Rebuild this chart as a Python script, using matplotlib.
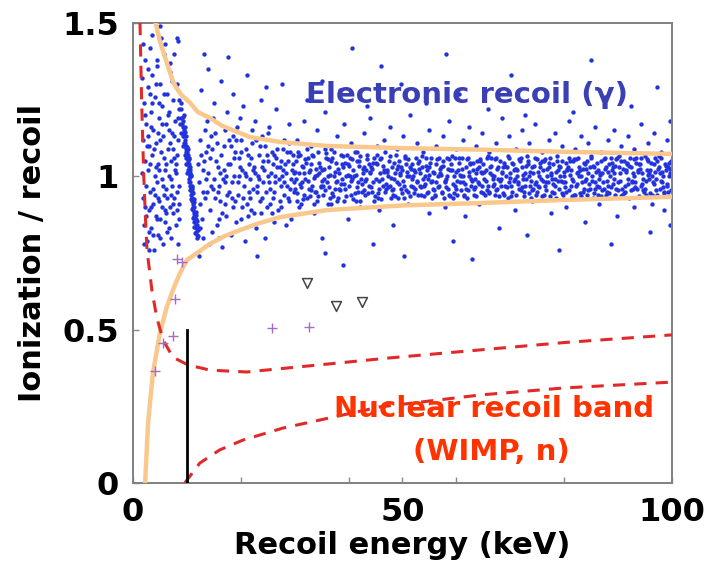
import matplotlib
matplotlib.use("Agg")
import matplotlib.pyplot as plt

# curve points (keV, ionization/recoil)
er_upper_x = [4.2, 5.0, 6.1, 7.4, 8.0, 9.0, 10.6, 12.0, 14.3, 16.5, 18.6, 21.7, 27.3, 36, 50, 64.4, 80, 100]
er_upper_y = [1.50, 1.44, 1.38, 1.31, 1.29, 1.265, 1.24, 1.21, 1.19, 1.165, 1.15, 1.128, 1.112, 1.099, 1.092, 1.087, 1.08, 1.073]
er_lower_x = [2.25, 2.8, 3.7, 5.0, 6.2, 7.4, 8.6, 10.0, 11.9, 14.3, 17, 19.9, 23, 27.3, 36, 50, 64.4, 80, 100]
er_lower_y = [0.0, 0.196, 0.359, 0.489, 0.57, 0.629, 0.68, 0.727, 0.75, 0.78, 0.805, 0.825, 0.845, 0.867, 0.89, 0.905, 0.913, 0.923, 0.933]
nr_upper_x = [1.3, 1.6, 2.0, 2.3, 2.6, 3.5, 4.4, 5.6, 7.4, 10.2, 14.3, 21.1, 30.4, 47.7, 64.4, 80, 100]
nr_upper_y = [1.5, 1.25, 1.0, 0.87, 0.76, 0.63, 0.54, 0.466, 0.41, 0.385, 0.368, 0.362, 0.378, 0.408, 0.434, 0.458, 0.483]
nr_lower_x = [9.6, 12.4, 16.1, 20.4, 27.8, 45.8, 64.4, 80, 100]
nr_lower_y = [0.0, 0.065, 0.108, 0.14, 0.179, 0.248, 0.287, 0.31, 0.329]

threshold_x = 10.0
threshold_top = 0.5

# candidate events
cross_x = [8.2, 9.1, 7.8, 7.4, 5.6, 4.1, 25.8, 32.7]
cross_y = [0.73, 0.72, 0.60, 0.48, 0.456, 0.365, 0.505, 0.509]
tri_x = [32.3, 37.7, 42.5]
tri_y = [0.652, 0.577, 0.590]

# gamma calibration events, low energy
er_low = [
    (1.6, 1.32), (1.8, 1.12), (1.9, .93), (2.0, 1.24), (2.1, .84), (2.2, 1.05), (2.3, 1.38), (2.4, .97), (2.5, 1.17), (2.6, .79),
    (2.7, 1.29), (2.8, 1.02), (2.9, .89), (3.0, 1.10), (3.1, 1.42), (3.2, .95), (3.3, 1.21), (3.4, .83), (3.5, 1.07), (3.6, 1.33),
    (3.7, .91), (3.8, 1.15), (3.9, .76), (4.0, 1.0), (4.1, 1.26), (4.2, .87), (4.3, 1.11), (4.4, .98), (4.5, 1.36), (4.6, .81),
    (4.7, 1.04), (4.8, 1.19), (4.9, .92), (5.0, 1.30), (5.1, .86), (5.2, 1.08), (5.3, .99), (5.4, 1.23), (5.5, .78), (5.6, 1.13),
    (5.7, .94), (5.8, 1.40), (5.9, 1.02), (6.0, .85), (6.1, 1.17), (6.2, .96), (6.3, 1.27), (6.4, .82), (6.5, 1.09), (6.6, 1.0),
    (6.7, 1.21), (6.8, .90), (6.9, 1.34), (7.0, 1.05), (7.1, .80), (7.2, 1.14), (7.3, .97), (7.4, 1.25), (7.5, .88), (7.6, 1.06),
    (7.7, .93), (7.8, 1.18), (7.9, .84), (8.0, 1.01), (8.1, 1.30), (8.2, .95), (8.3, 1.12), (8.4, .78), (8.5, 1.22), (8.6, .91),
    (2.2, .90), (2.6, 1.10), (3.0, .82), (3.4, 1.16), (3.8, .96), (4.2, 1.03), (4.6, .93), (5.0, 1.12), (5.4, .90), (5.8, 1.06),
    (6.2, .88), (6.6, 1.15), (7.0, .94), (7.4, 1.09), (7.8, 1.02), (8.2, 1.07), (8.6, .86), (3.2, 1.27), (5.2, 1.45), (8.4, 1.44),
    (4.4, 1.38), (6.8, 1.37), (5.0, 1.49), (8.2, 1.45),
    (1.7, 1.01), (2.0, .78), (2.3, 1.20), (2.5, .87), (2.7, 1.13), (2.9, .76), (3.1, 1.04), (3.3, .90), (3.5, 1.24), (3.7, .81),
    (3.9, 1.09), (4.1, .94), (4.3, 1.30), (4.5, .86), (4.7, 1.14), (4.9, 1.02), (5.1, .80), (5.3, 1.17), (5.5, .97), (5.7, 1.27),
    (5.9, .89), (6.1, 1.04), (6.3, .93), (6.5, 1.20), (6.7, .83), (6.9, 1.11), (7.1, .99), (7.3, 1.31), (7.5, .91), (7.7, 1.13),
    (7.9, 1.04), (8.1, .89), (8.3, 1.19), (8.5, .97), (1.9, 1.43), (2.8, 1.35), (3.6, 1.46), (6.0, 1.43), (7.6, 1.40), (4.9, 1.24),
]

# tilted calibration line near 10 keV
er_line = [
    (8.6, 1.25), (8.9, 1.22), (9.0, 1.19), (9.3, 1.18), (9.2, 1.16), (9.4, 1.15), (9.3, 1.13), (9.6, 1.12), (9.5, 1.11), (9.7, 1.10),
    (9.9, 1.09), (9.8, 1.08), (10.0, 1.07), (9.9, 1.06), (10.2, 1.05), (10.1, 1.04), (10.3, 1.03), (10.2, 1.02), (10.4, 1.01), (10.5, 1.0),
    (10.4, .99), (10.6, .98), (10.5, .97), (10.7, .96), (10.9, .95), (10.8, .94), (11.0, .93), (10.9, .92), (11.1, .91), (11.2, .90),
    (11.1, .89), (11.3, .88), (11.4, .87), (11.5, .86), (11.4, .85), (11.6, .84), (11.7, .83), (11.6, .82), (11.8, .81), (11.9, .80),
    (9.1, 1.17), (9.5, 1.14), (9.7, 1.11), (10.0, 1.08), (10.1, 1.06), (10.3, 1.04), (10.5, 1.02), (10.6, 1.0), (10.8, .97), (11.0, .95),
    (11.2, .92), (11.3, .90), (11.5, .88), (11.6, .86), (11.8, .84), (9.4, 1.13), (9.8, 1.10), (10.2, 1.07), (10.6, 1.01), (11.0, .96),
    (8.9, 1.24), (9.4, 1.20), (8.8, 1.17), (9.7, 1.16), (9.0, 1.14), (9.9, 1.13), (9.3, 1.10), (10.2, 1.09), (9.6, 1.07), (10.4, 1.06),
    (9.9, 1.04), (10.6, 1.03), (10.1, 1.01), (10.8, 1.0), (10.3, .98), (11.0, .97), (10.5, .955), (11.2, .945), (10.7, .925), (11.4, .915),
    (10.9, .895), (11.6, .885), (11.1, .865), (11.8, .855), (11.3, .835), (12.0, .825), (11.5, .815), (12.1, .805), (9.2, 1.195), (9.6, 1.145),
    (10.0, 1.095), (10.3, 1.055), (10.7, 1.005), (11.0, .965), (11.3, .925), (11.6, .875), (11.9, .835),
]

# 12 - 30 keV
er_mid = [
    (12.2, .98), (12.5, 1.12), (12.8, .86), (13.1, 1.05), (13.4, .93), (13.7, 1.18), (14.0, 1.01), (14.3, .89), (14.6, 1.09), (14.9, .96),
    (15.2, 1.14), (15.5, .84), (15.8, 1.03), (16.1, .92), (16.4, 1.07), (16.7, .99), (17.0, 1.15), (17.3, .87), (17.6, 1.04), (17.9, .95),
    (18.2, 1.10), (18.5, .90), (18.8, 1.0), (19.1, 1.12), (19.4, .94), (19.7, 1.06), (20.0, .86), (20.3, 1.02), (20.6, .97), (20.9, 1.09),
    (21.2, .91), (21.5, 1.04), (21.8, .99), (22.1, 1.11), (22.4, .88), (22.7, 1.01), (23.0, .95), (23.3, 1.07), (23.6, .92), (23.9, 1.03),
    (24.2, .98), (24.5, 1.10), (24.8, .90), (25.1, 1.05), (25.4, .96), (25.7, 1.08), (26.0, .93), (26.3, 1.0), (26.6, 1.06), (26.9, .89),
    (27.2, 1.03), (27.5, .97), (27.8, 1.09), (28.1, .94), (28.4, 1.01), (28.7, 1.05), (29.0, .92), (29.3, .99), (29.6, 1.07), (29.9, .95),
    (12.4, .91), (12.9, 1.02), (13.3, 1.15), (13.8, .95), (14.2, 1.06), (14.7, .82), (15.1, .99), (15.6, 1.11), (16.0, .97), (16.5, .88),
    (16.9, 1.02), (17.4, .94), (17.8, 1.12), (18.3, .98), (18.7, 1.06), (19.2, .85), (19.6, 1.0), (20.1, 1.08), (20.5, .93), (21.0, 1.0),
    (21.4, .87), (21.9, 1.06), (22.3, .96), (22.8, 1.12), (23.2, 1.0), (23.7, .88), (24.1, 1.05), (24.6, .95), (25.0, 1.0), (25.5, .91),
    (25.9, 1.04), (26.4, .98), (26.8, 1.09), (27.3, .92), (27.7, 1.0), (28.2, 1.04), (28.6, .97), (29.1, 1.08), (29.5, 1.02), (29.8, .98),
    (12.7, 1.07), (13.5, .99), (14.4, 1.13), (15.3, .93), (16.2, 1.01), (17.1, .98), (18.0, 1.04), (18.9, .92), (19.8, 1.03), (20.7, 1.01),
    (21.6, .95), (22.5, 1.03), (23.4, .99), (24.3, 1.02), (25.2, .98), (26.1, 1.07), (27.0, .99), (27.9, 1.02), (28.8, .93), (29.7, 1.04),
    (12.6, 1.28), (13.9, 1.35), (15.0, 1.24), (16.3, 1.31), (17.5, 1.21), (18.6, 1.27), (19.9, 1.19), (21.1, 1.33), (22.6, 1.18), (23.8, 1.25),
    (25.3, 1.16), (26.5, 1.22), (27.6, 1.30), (28.9, 1.17), (14.8, 1.19), (20.4, 1.23), (24.7, 1.29), (12.3, .74), (14.1, .78), (16.6, .77),
    (18.1, .81), (20.8, .79), (22.9, .83), (24.4, .80), (26.2, .85), (28.3, .84), (13.2, 1.40), (17.7, 1.39), (29.4, .86), (23.1, .74),
    (12.1, 1.04), (12.9, .80), (13.6, 1.08), (14.5, .97), (15.4, 1.05), (16.0, .86), (16.8, 1.10), (17.2, 1.0), (18.4, .93), (19.0, 1.08),
    (19.5, .98), (20.2, .90), (21.3, 1.07), (21.7, .93), (22.2, 1.02), (23.1, .97), (23.5, 1.10), (24.0, .93), (24.9, 1.07), (25.6, 1.01),
    (26.2, .95), (26.7, 1.03), (27.4, 1.05), (28.0, .98), (28.5, 1.08), (29.2, .96), (29.9, 1.01), (13.0, .95), (14.0, 1.10), (15.7, .95),
    (17.0, .91), (18.5, 1.13), (20.0, 1.12), (21.9, .89), (23.9, 1.13), (25.8, .88), (27.5, .90), (29.0, 1.11), (12.5, .83), (15.9, .80),
    (19.3, 1.16), (22.0, 1.15), (25.0, 1.14), (28.0, 1.12),
]

# 30 - 100 keV, main band
er_core = [
    (30, .96), (30.2, .99), (30.3, 1.05), (30.5, .92), (30.7, 1.08), (30.8, 1.01),
    (31, 1.07), (31.2, .91), (31.3, .98), (31.5, 1.03), (31.7, 1.01), (31.8, .94),
    (32, .99), (32.2, 1.09), (32.3, .93), (32.5, 1.06), (32.7, .96), (32.8, 1.02),
    (33, 1.04), (33.2, 1.07), (33.3, .97), (33.5, .91), (33.7, .95), (33.8, 1.0),
    (34, .95), (34.2, .92), (34.3, 1.08), (34.5, 1.01), (34.7, 1.03), (34.8, .97),
    (35, 1.02), (35.2, .97), (35.3, .94), (35.5, .99), (35.7, 1.09), (35.8, 1.06),
    (36, .98), (36.2, 1.0), (36.3, 1.03), (36.5, .93), (36.7, .91), (36.8, 1.05),
    (37, 1.06), (37.2, 1.08), (37.3, 1.0), (37.5, .96), (37.7, .98), (37.8, .92),
    (38, .93), (38.2, .96), (38.3, 1.01), (38.5, 1.07), (38.7, 1.04), (38.8, .99),
    (39, 1.03), (39.2, .92), (39.3, .96), (39.5, 1.0), (39.7, 1.07), (39.8, 1.04),
    (40, .97), (40.2, 1.0), (40.3, 1.06), (40.5, .94), (40.7, .99), (40.8, 1.02),
    (41, 1.0), (41.2, 1.08), (41.3, .92), (41.5, 1.05), (41.7, .95), (41.8, .98),
    (42, 1.05), (42.2, .92), (42.3, .99), (42.5, .95), (42.7, 1.01), (42.8, 1.03),
    (43, .94), (43.2, .99), (43.3, 1.02), (43.5, 1.07), (43.7, 1.04), (43.8, .97),
    (44, 1.01), (44.2, 1.03), (44.3, .95), (44.5, .98), (44.7, .92), (44.8, 1.06),
    (45, .99), (45.2, 1.07), (45.3, 1.04), (45.5, .93), (45.7, .96), (45.8, 1.01),
    (46, 1.06), (46.2, .99), (46.3, .97), (46.5, 1.02), (46.7, 1.08), (46.8, .95),
    (47, .96), (47.2, 1.02), (47.3, 1.0), (47.5, 1.05), (47.7, .97), (47.8, .93),
    (48, 1.03), (48.2, .96), (48.3, .94), (48.5, .99), (48.7, 1.01), (48.8, 1.07),
    (49, .98), (49.2, .93), (49.3, 1.05), (49.5, 1.01), (49.7, 1.03), (49.8, .96),
    (50, 1.02), (50.2, .97), (50.3, .93), (50.5, 1.06), (50.7, 1.04), (50.8, 1.0),
    (51, .95), (51.2, 1.0), (51.3, 1.03), (51.5, .97), (51.7, .99), (51.8, 1.04),
    (52, 1.0), (52.2, 1.02), (52.3, .96), (52.5, 1.06), (52.7, .98), (52.8, .94),
    (53, 1.05), (53.2, .97), (53.3, 1.01), (53.5, .94), (53.7, 1.03), (53.8, .99),
    (54, .97), (54.2, 1.0), (54.3, 1.06), (54.5, 1.02), (54.7, .99), (54.8, .95),
    (55, 1.03), (55.2, 1.06), (55.3, .98), (55.5, .93), (55.7, .96), (55.8, 1.01),
    (56, .94), (56.2, .98), (56.3, 1.04), (56.5, 1.0), (56.7, .97), (56.8, 1.06),
    (57, 1.01), (57.2, 1.03), (57.3, .95), (57.5, 1.05), (57.7, .93), (57.8, .98),
    (58, .99), (58.2, 1.0), (58.3, 1.06), (58.5, .96), (58.7, .94), (58.8, 1.02),
    (59, 1.04), (59.2, 1.02), (59.3, .93), (59.5, 1.0), (59.7, 1.06), (59.8, .97),
    (60, .96), (60.2, .94), (60.3, 1.02), (60.5, 1.06), (60.7, .98), (60.8, 1.0),
    (61, 1.06), (61.2, 1.0), (61.3, .98), (61.5, .94), (61.7, .96), (61.8, 1.03),
    (62, .93), (62.2, 1.06), (62.3, 1.0), (62.5, 1.04), (62.7, .99), (62.8, .97),
    (63, 1.02), (63.2, .94), (63.3, .96), (63.5, .99), (63.7, 1.01), (63.8, 1.05),
    (64, .98), (64.2, 1.03), (64.3, 1.05), (64.5, .95), (64.7, .97), (64.8, 1.01),
    (65, 1.04), (65.2, .99), (65.3, .94), (65.5, 1.02), (65.7, 1.06), (65.8, .97),
    (66, .95), (66.2, 1.03), (66.3, 1.01), (66.5, 1.06), (66.7, .97), (66.8, .99),
    (67, 1.0), (67.2, .94), (67.3, 1.06), (67.5, .96), (67.7, .99), (67.8, 1.03),
    (68, 1.05), (68.2, .99), (68.3, .97), (68.5, 1.01), (68.7, 1.03), (68.8, .94),
    (69, .97), (69.2, 1.0), (69.3, 1.03), (69.5, .93), (69.7, .98), (69.8, 1.06),
    (70, 1.01), (70.2, .97), (70.3, .95), (70.5, 1.04), (70.7, 1.02), (70.8, .99),
    (71, .94), (71.2, 1.0), (71.3, 1.02), (71.5, .98), (71.7, .96), (71.8, 1.05),
    (72, 1.06), (72.2, 1.03), (72.3, .99), (72.5, .95), (72.7, .97), (72.8, 1.01),
    (73, .99), (73.2, 1.05), (73.3, 1.04), (73.5, 1.0), (73.7, .97), (73.8, .93),
    (74, 1.03), (74.2, 1.01), (74.3, .96), (74.5, 1.06), (74.7, .94), (74.8, .98),
    (75, .95), (75.2, .97), (75.3, 1.0), (75.5, 1.03), (75.7, .99), (75.8, 1.05),
    (76, 1.02), (76.2, 1.05), (76.3, .94), (76.5, .97), (76.7, .98), (76.8, 1.0),
    (77, .98), (77.2, 1.03), (77.3, 1.06), (77.5, 1.01), (77.7, .99), (77.8, .95),
    (78, 1.04), (78.2, .97), (78.3, .99), (78.5, .93), (78.7, 1.05), (78.8, 1.02),
    (79, .96), (79.2, 1.0), (79.3, 1.03), (79.5, 1.05), (79.7, .94), (79.8, .98),
    (80, 1.0), (80.2, .98), (80.3, .95), (80.5, 1.02), (80.7, 1.03), (80.8, 1.06),
    (81, 1.05), (81.2, 1.02), (81.3, .97), (81.5, .99), (81.7, 1.05), (81.8, .94),
    (82, .94), (82.2, .97), (82.3, 1.01), (82.5, 1.06), (82.7, 1.03), (82.8, 1.0),
    (83, 1.02), (83.2, 1.0), (83.3, .98), (83.5, .95), (83.7, .96), (83.8, 1.04),
    (84, .99), (84.2, .94), (84.3, 1.05), (84.5, 1.01), (84.7, 1.03), (84.8, .96),
    (85, 1.06), (85.2, 1.0), (85.3, .93), (85.5, 1.03), (85.7, .96), (85.8, .98),
    (86, .97), (86.2, .94), (86.3, 1.02), (86.5, .99), (86.7, 1.01), (86.8, 1.05),
    (87, 1.01), (87.2, .98), (87.3, .96), (87.5, 1.06), (87.7, 1.03), (87.8, .94),
    (88, .95), (88.2, .97), (88.3, 1.04), (88.5, 1.0), (88.7, 1.06), (88.8, 1.02),
    (89, 1.03), (89.2, 1.01), (89.3, .99), (89.5, .94), (89.7, .96), (89.8, 1.06),
    (90, .98), (90.2, 1.03), (90.3, 1.01), (90.5, 1.05), (90.7, .94), (90.8, .96),
    (91, 1.05), (91.2, .97), (91.3, .95), (91.5, 1.02), (91.7, 1.04), (91.8, .99),
    (92, .93), (92.2, 1.06), (92.3, 1.03), (92.5, .98), (92.7, .96), (92.8, 1.01),
    (93, 1.0), (93.2, .98), (93.3, 1.06), (93.5, .96), (93.7, 1.02), (93.8, 1.04),
    (94, 1.04), (94.2, 1.06), (94.3, .97), (94.5, 1.01), (94.7, .99), (94.8, .95),
    (95, .96), (95.2, .94), (95.3, 1.02), (95.5, 1.05), (95.7, 1.01), (95.8, .99),
    (96, 1.02), (96.2, 1.0), (96.3, .94), (96.5, .98), (96.7, 1.04), (96.8, 1.06),
    (97, .99), (97.2, .94), (97.3, 1.05), (97.5, 1.03), (97.7, 1.01), (97.8, .96),
    (98, 1.06), (98.2, .98), (98.3, 1.0), (98.5, .95), (98.7, 1.04), (98.8, 1.02),
    (99, .97), (99.2, .95), (99.3, 1.03), (99.5, 1.0), (99.7, 1.01), (99.8, 1.05),
]

# 30 - 100 keV, more events in the main band
er_core2 = [
    (30.1, 1.015), (30.4, .945), (30.6, 1.065), (30.9, .975), (31.1, .965), (31.4, 1.035), (31.6, .925), (31.9, 1.055),
    (32.1, 1.045), (32.4, .985), (32.6, 1.015), (32.9, .935), (33.1, .955), (33.4, 1.065), (33.6, .995), (33.9, 1.025),
    (34.1, 1.005), (34.4, .935), (34.6, 1.045), (34.9, .965), (35.1, .985), (35.4, 1.025), (35.6, .955), (35.9, 1.075),
    (36.1, 1.055), (36.4, .965), (36.6, 1.005), (36.9, .945), (37.1, .935), (37.4, 1.015), (37.6, 1.045), (37.9, .985),
    (38.1, 1.025), (38.4, .955), (38.6, .975), (38.9, 1.065), (39.1, .975), (39.4, 1.045), (39.6, .935), (39.9, 1.005),
    (40.1, 1.035), (40.4, .985), (40.6, 1.055), (40.9, .925), (41.1, .945), (41.4, 1.005), (41.6, .965), (41.9, 1.035),
    (42.1, 1.065), (42.4, .975), (42.6, 1.025), (42.9, .955), (43.1, .985), (43.4, 1.055), (43.6, .945), (43.9, 1.015),
    (44.1, .965), (44.4, 1.025), (44.6, 1.045), (44.9, .935), (45.1, 1.045), (45.4, .945), (45.6, .985), (45.9, 1.055),
    (46.1, .925), (46.4, 1.035), (46.6, 1.015), (46.9, .975), (47.1, 1.015), (47.4, .965), (47.6, 1.065), (47.9, .995),
    (48.1, .955), (48.4, 1.045), (48.6, .935), (48.9, 1.025), (49.1, 1.035), (49.4, .975), (49.6, 1.005), (49.9, .945),
    (50.1, .985), (50.4, 1.065), (50.6, .955), (50.9, 1.015), (51.1, 1.055), (51.4, .935), (51.6, 1.025), (51.9, .965),
    (52.1, .945), (52.4, 1.015), (52.6, .985), (52.9, 1.045), (53.1, 1.025), (53.4, .965), (53.6, 1.065), (53.9, .935),
    (54.1, .975), (54.4, 1.035), (54.6, .945), (54.9, 1.005), (55.1, 1.045), (55.4, .985), (55.6, 1.015), (55.9, .955),
    (56.1, .935), (56.4, 1.055), (56.6, .965), (56.9, 1.025), (57.1, 1.005), (57.4, .945), (57.6, 1.035), (57.9, .985),
    (58.1, .965), (58.4, 1.025), (58.6, 1.055), (58.9, .935), (59.1, 1.065), (59.4, .975), (59.6, .945), (59.9, 1.015),
    (60.1, .985), (60.4, 1.045), (60.6, 1.005), (60.9, .955), (61.1, 1.025), (61.4, .935), (61.6, .975), (61.9, 1.055),
    (62.1, .955), (62.4, 1.015), (62.6, 1.045), (62.9, .985), (63.1, 1.045), (63.4, .965), (63.6, .935), (63.9, 1.025),
    (64.1, .975), (64.4, 1.055), (64.6, 1.015), (64.9, .945), (65.1, 1.015), (65.4, .985), (65.6, .955), (65.9, 1.065),
    (66.1, .945), (66.4, 1.035), (66.6, 1.005), (66.9, .975), (67.1, 1.055), (67.4, .955), (67.6, 1.025), (67.9, .935),
    (68.1, .985), (68.4, 1.015), (68.6, .945), (68.9, 1.045), (69.1, 1.035), (69.4, .965), (69.6, 1.065), (69.9, .995),
    (70.1, .935), (70.4, 1.045), (70.6, .985), (70.9, 1.025), (71.1, 1.025), (71.4, .975), (71.6, 1.055), (71.9, .955),
    (72.1, .965), (72.4, 1.005), (72.6, .935), (72.9, 1.035), (73.1, 1.065), (73.4, .945), (73.6, 1.015), (73.9, .985),
    (74.1, .955), (74.4, 1.035), (74.6, .975), (74.9, 1.055), (75.1, 1.015), (75.4, .965), (75.6, 1.045), (75.9, .935),
    (76.1, .985), (76.4, 1.055), (76.6, .955), (76.9, 1.025), (77.1, 1.045), (77.4, .935), (77.6, 1.005), (77.9, .975),
    (78.1, .945), (78.4, 1.015), (78.6, 1.065), (78.9, .985), (79.1, 1.035), (79.4, .985), (79.6, .945), (79.9, 1.015),
    (80.1, .965), (80.4, 1.045), (80.6, 1.025), (80.9, .955), (81.1, 1.005), (81.4, .935), (81.6, .985), (81.9, 1.055),
    (82.1, 1.055), (82.4, .975), (82.6, 1.015), (82.9, .945), (83.1, .935), (83.4, 1.025), (83.6, 1.045), (83.9, .985),
    (84.1, 1.025), (84.4, .955), (84.6, .975), (84.9, 1.065), (85.1, .985), (85.4, 1.035), (85.6, .945), (85.9, 1.015),
    (86.1, 1.045), (86.4, .965), (86.6, 1.005), (86.9, .935), (87.1, .955), (87.4, 1.055), (87.6, 1.025), (87.9, .985),
    (88.1, 1.015), (88.4, .945), (88.6, .965), (88.9, 1.045), (89.1, .975), (89.4, 1.035), (89.6, 1.055), (89.9, .955),
    (90.1, 1.065), (90.4, .985), (90.6, .935), (90.9, 1.025), (91.1, .945), (91.4, 1.015), (91.6, 1.045), (91.9, .975),
    (92.1, 1.035), (92.4, .955), (92.6, .985), (92.9, 1.055), (93.1, .965), (93.4, 1.045), (93.6, 1.015), (93.9, .935),
    (94.1, 1.025), (94.4, .975), (94.6, .955), (94.9, 1.065), (95.1, .985), (95.4, 1.055), (95.6, 1.005), (95.9, .945),
    (96.1, 1.045), (96.4, .935), (96.6, .975), (96.9, 1.015), (97.1, .955), (97.4, 1.025), (97.6, 1.065), (97.9, .985),
    (98.1, 1.015), (98.4, .965), (98.6, .945), (98.9, 1.035), (99.1, .975), (99.4, 1.045), (99.6, 1.025), (99.9, .955),
]

# 30 - 100 keV, events around the band
er_halo = [
    (30.5, 1.12), (31.8, 1.18), (33.0, 1.10), (34.2, 1.15), (35.6, 1.21), (36.7, 1.09), (37.9, 1.13), (39.1, 1.17), (40.4, 1.11), (41.6, 1.08),
    (42.8, 1.14), (44.0, 1.19), (45.3, 1.10), (46.5, 1.12), (47.6, 1.16), (48.9, 1.09), (50.1, 1.13), (51.4, 1.20), (52.6, 1.11), (53.8, 1.08),
    (55.0, 1.15), (56.3, 1.10), (57.5, 1.13), (58.7, 1.18), (59.9, 1.09), (61.2, 1.12), (62.4, 1.16), (63.6, 1.10), (64.8, 1.14), (66.1, 1.08),
    (67.3, 1.11), (68.5, 1.19), (69.7, 1.13), (71.0, 1.09), (72.2, 1.15), (73.4, 1.11), (74.6, 1.17), (75.9, 1.08), (77.1, 1.12), (78.3, 1.14),
    (79.5, 1.10), (80.8, 1.18), (82.0, 1.09), (83.2, 1.13), (84.4, 1.11), (85.7, 1.16), (86.9, 1.08), (88.1, 1.12), (89.3, 1.15), (90.6, 1.10),
    (91.8, 1.13), (93.0, 1.09), (94.2, 1.17), (95.5, 1.11), (96.7, 1.14), (97.9, 1.08), (99.1, 1.12), (99.6, 1.18),
    (32.3, 1.25), (38.4, 1.28), (43.5, 1.23), (49.7, 1.30), (54.4, 1.24), (60.5, 1.27), (65.9, 1.22), (70.2, 1.33), (76.5, 1.25), (81.7, 1.21),
    (87.6, 1.26), (92.4, 1.23), (97.3, 1.29), (46.0, 1.36), (58.0, 1.40), (84.9, 1.38), (72.8, 1.20), (35.0, 1.31), (40.6, 1.42),
    (30.8, .90), (33.5, .88), (36.2, .91), (39.8, .86), (42.1, .90), (45.7, .89), (48.3, .84), (51.0, .91), (54.9, .88), (57.8, .90),
    (61.6, .87), (64.2, .91), (67.9, .83), (70.8, .89), (74.0, .92), (77.6, .88), (80.3, .90), (83.9, .85), (86.4, .91), (89.8, .87),
    (92.9, .90), (95.9, .82), (98.6, .89), (35.1, .80), (44.6, .78), (59.3, .79), (73.1, .81), (88.7, .78), (96.2, .91), (50.2, .74),
    (39.0, .71), (79.0, .76), (62.9, .73), (99.6, .84), (35.6, .75),
]

plt.rcParams['font.family'] = ['DejaVu Sans']
plt.rcParams['font.weight'] = 'bold'

fig = plt.figure(figsize=(7.1, 5.79), dpi=100)
ax = fig.add_axes([0.1873, 0.1658, 0.7592, 0.7945])

blue = '#2233dd'
for pts in [er_low, er_line, er_mid, er_core, er_core2, er_halo]:
    xs = [p[0] for p in pts]
    ys = [p[1] for p in pts]
    ax.scatter(xs, ys, s=10, color=blue, linewidths=0, zorder=2)

orange = '#f8c88c'
ax.plot(er_upper_x, er_upper_y, color=orange, lw=3.2, zorder=3)
ax.plot(er_lower_x, er_lower_y, color=orange, lw=3.2, zorder=3)

red = '#e02a2a'
ax.plot(nr_upper_x, nr_upper_y, color=red, lw=2.2, linestyle=(0, (4, 3)), zorder=4)
ax.plot(nr_lower_x, nr_lower_y, color=red, lw=2.2, linestyle=(0, (4, 3)), zorder=4)

ax.plot([threshold_x, threshold_x], [0, threshold_top], color='black', lw=2, zorder=5)

ax.scatter(cross_x, cross_y, marker='+', s=45, color='#a46cc4', linewidths=1.0, zorder=5)
ax.scatter(tri_x, tri_y, marker='v', s=50, facecolors='white', edgecolors='#444444', linewidths=1.1, zorder=5)

ax.text(62, 1.265, 'Electronic recoil (\u03b3)', color='#3a3fb5', fontsize=21, fontweight='bold',
        ha='center', va='center', zorder=6)
ax.text(67, 0.24, 'Nuclear recoil band', color='#ff3300', fontsize=21, fontweight='bold',
        ha='center', va='center', zorder=6)
ax.text(66.5, 0.1, '(WIMP, n)', color='#ff3300', fontsize=21, fontweight='bold',
        ha='center', va='center', zorder=6)

ax.set_xlim(0, 100)
ax.set_ylim(0, 1.5)
ax.set_xticks([0, 50, 100])
ax.set_xticks([20, 40, 60, 80], minor=True)
ax.set_yticks([0, 0.5, 1, 1.5])
ax.set_yticklabels(['0', '0.5', '1', '1.5'])
ax.tick_params(which='both', direction='in', color='#888888', length=4, width=1)
ax.tick_params(axis='both', labelsize=23, pad=10)
for s in ax.spines.values():
    s.set_color('#808080')
    s.set_linewidth(1.4)

ax.set_xlabel('Recoil energy (keV)', fontsize=22, fontweight='bold')
ax.set_ylabel('Ionization / recoil', fontsize=22, fontweight='bold')
ax.xaxis.set_label_coords(0.5, -0.105)
ax.yaxis.set_label_coords(-0.16, 0.5)

fig.savefig('out.png', dpi=100)
